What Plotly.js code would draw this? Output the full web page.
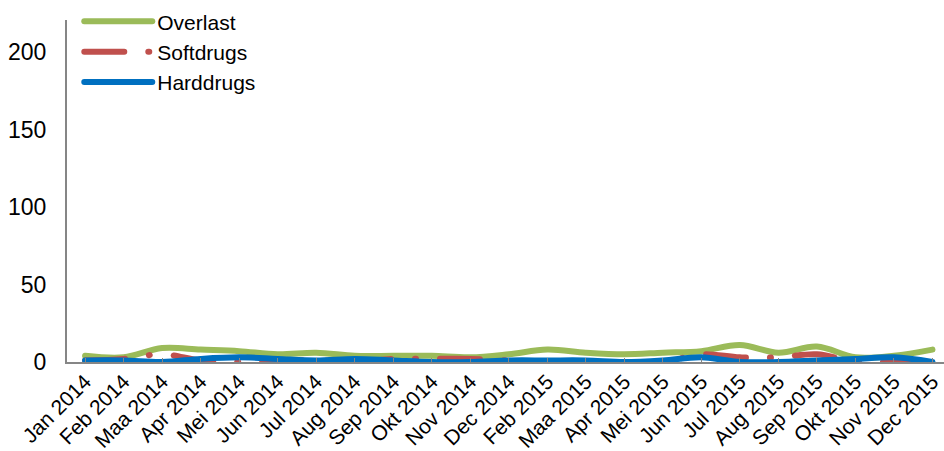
<!DOCTYPE html>
<html>
<head>
<meta charset="utf-8">
<script src="https://cdn.plot.ly/plotly-3.0.1.min.js"></script>
<style>
html,body{margin:0;padding:0;background:#fff;}
#chart{width:944px;height:451px;}
path.js-line{stroke-linecap:round;stroke-linejoin:round;}
</style>
</head>
<body>
<div id="chart"></div>
<script>
const categories = ['Jan 2014','Feb 2014','Maa 2014','Apr 2014','Mei 2014','Jun 2014','Jul 2014','Aug 2014','Sep 2014','Okt 2014','Nov 2014','Dec 2014','Feb 2015','Maa 2015','Apr 2015','Mei 2015','Jun 2015','Jul 2015','Aug 2015','Sep 2015','Okt 2015','Nov 2015','Dec 2015'];
const overlast  = [4,3,9,8,7,5,6,4,4,4,3,5,8,6,5,6,7,11,6,10,3,4,8];
const softdrugs = [1,2,5,1,0,1,1,0,2,2,2,1,0,0,0,0,5,3,3,5,0,0,0];
const harddrugs = [1,1,0,2,3,2,1,2,1,0,0,1,1,1,0,1,3,0,0,1,2,3,0];
const yTicks = [0,50,100,150,200];

const idx = categories.map((c,i)=>i);
const FONT = 'Liberation Sans, Arial, sans-serif';

const traces = [
  {x: idx, y: overlast, name: 'Overlast', type: 'scatter', mode: 'lines',
   line: {color: '#9BBB59', width: 6, shape: 'spline', smoothing: 1}},
  {x: idx, y: softdrugs, name: 'Softdrugs', type: 'scatter', mode: 'lines',
   line: {color: '#C0504D', width: 6, shape: 'spline', smoothing: 1, dash: '40px,24px,1px,24px'}},
  {x: idx, y: harddrugs, name: 'Harddrugs', type: 'scatter', mode: 'lines',
   line: {color: '#0070C0', width: 6, shape: 'spline', smoothing: 1}}
];

const layout = {
  width: 944, height: 451,
  margin: {l: 67, r: 0, t: 20, b: 89, pad: 0},
  paper_bgcolor: '#fff', plot_bgcolor: '#fff',
  font: {family: FONT, size: 21, color: '#000'},
  showlegend: true,
  legend: {x: 0.014, y: 1.055, xanchor: 'left', yanchor: 'top', bgcolor: 'rgba(0,0,0,0)',
           font: {family: FONT, size: 21, color: '#000'}, itemwidth: 68, tracegroupgap: 0},
  xaxis: {
    range: [-0.47, 22.3], tickmode: 'array', tickvals: idx, ticktext: categories,
    tickangle: -45, showgrid: false, zeroline: false, showline: true,
    linecolor: '#868686', linewidth: 2, ticks: 'inside', ticklen: 4, tickcolor: '#868686',
    ticklabeloverflow: 'allow', automargin: false, ticklabelstandoff: -3,
    tickfont: {family: FONT, size: 21, color: '#000'}, fixedrange: true
  },
  yaxis: {
    range: [0, 220.6], tickmode: 'array', tickvals: yTicks, ticktext: yTicks.map(String),
    showgrid: false, zeroline: false, showline: true, linecolor: '#868686', linewidth: 2,
    ticks: '', ticklabelstandoff: 14, automargin: false,
    tickfont: {family: FONT, size: 23, color: '#000'}, fixedrange: true
  }
};

Plotly.newPlot('chart', traces, layout, {displayModeBar: false, staticPlot: true});
</script>
</body>
</html>
